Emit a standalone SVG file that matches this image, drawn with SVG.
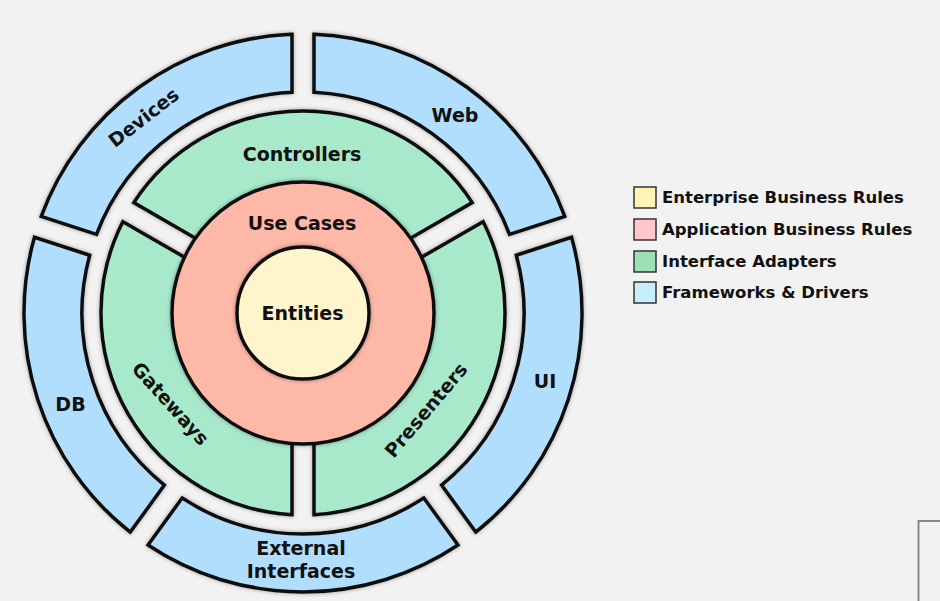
<svg xmlns="http://www.w3.org/2000/svg" width="940" height="601" viewBox="0 0 940 601">
<defs>
<filter id="sh" x="-10%" y="-10%" width="120%" height="120%">
<feDropShadow dx="0" dy="0" stdDeviation="2" flood-color="#000" flood-opacity="0.35"/>
</filter>
<style>
.seg{stroke:#111;stroke-width:3.5;stroke-linejoin:miter;filter:url(#sh)}
.blue{fill:#b0defc}
.green{fill:#a8e9cc}
.lbl{font-family:"DejaVu Sans","Liberation Sans",sans-serif;font-weight:bold;font-size:19px;fill:#111;text-anchor:middle}
.leg{font-family:"DejaVu Sans","Liberation Sans",sans-serif;font-weight:bold;font-size:16.5px;fill:#111}
.box{stroke:#333;stroke-width:1.5}
</style>
</defs>
<rect width="940" height="601" fill="#f2f2f2"/>
<g id="devices">
<path class="seg blue" d="M 292,34.217 A279,279 0 0 0 41.259,216.389 L 96.476,234.330 A221,221 0 0 1 292,92.274 Z"/>
<text class="lbl" transform="translate(144,118) rotate(-38)" x="0" y="6">Devices</text>
</g>
<g id="web">
<path class="seg blue" d="M 564.741,216.389 A279,279 0 0 0 314,34.217 L 314,92.274 A221,221 0 0 1 509.524,234.330 Z"/>
<text class="lbl" x="455" y="121.5">Web</text>
</g>
<g id="ui">
<path class="seg blue" d="M 475.764,532.073 A279,279 0 0 0 571.539,237.313 L 516.322,255.254 A221,221 0 0 1 441.638,485.104 Z"/>
<text class="lbl" x="545" y="388">UI</text>
</g>
<g id="external-interfaces">
<path class="seg blue" d="M 148.034,545.005 A279,279 0 0 0 457.966,545.005 L 423.840,498.036 A221,221 0 0 1 182.160,498.036 Z"/>
<text class="lbl" x="301" y="555">External</text>
<text class="lbl" x="301" y="578">Interfaces</text>
</g>
<g id="db">
<path class="seg blue" d="M 34.461,237.313 A279,279 0 0 0 130.236,532.073 L 164.362,485.104 A221,221 0 0 1 89.678,255.254 Z"/>
<text class="lbl" x="70.5" y="411">DB</text>
</g>
<g id="controllers">
<path class="seg green" d="M 472.177,202.624 A202,202 0 0 0 133.823,202.624 L 200.667,241.216 A125,125 0 0 1 405.333,241.216 Z"/>
<text class="lbl" x="302" y="161">Controllers</text>
</g>
<g id="gateways">
<path class="seg green" d="M 122.823,221.676 A202,202 0 0 0 292,514.7 L 292,437.515 A125,125 0 0 1 189.667,260.268 Z"/>
<text class="lbl" transform="translate(170,404) rotate(48)" x="0" y="6">Gateways</text>
</g>
<g id="presenters">
<path class="seg green" d="M 314,514.7 A202,202 0 0 0 483.177,221.676 L 416.333,260.268 A125,125 0 0 1 314,437.515 Z"/>
<text class="lbl" transform="translate(426.5,410.5) rotate(-50)" x="0" y="6">Presenters</text>
</g>
<g id="use-cases">
<circle class="seg" cx="303" cy="313" r="131" fill="#fdb8a8"/>
<text class="lbl" x="302" y="230">Use Cases</text>
</g>
<g id="entities">
<circle class="seg" cx="303" cy="313" r="66" fill="#fff5cc"/>
<text class="lbl" x="302.5" y="320">Entities</text>
</g>
<g id="legend">
<rect class="box" x="634" y="187" width="22" height="21" fill="#fff4b8"/>
<text class="leg" x="662" y="202.5">Enterprise Business Rules</text>
<rect class="box" x="634" y="219" width="22" height="21" fill="#ffc6cc"/>
<text class="leg" x="662" y="234.5">Application Business Rules</text>
<rect class="box" x="634" y="251" width="22" height="21" fill="#9ee0b5"/>
<text class="leg" x="662" y="266.5">Interface Adapters</text>
<rect class="box" x="634" y="282" width="22" height="21" fill="#c6eefb"/>
<text class="leg" x="662" y="297.5">Frameworks &amp; Drivers</text>
</g>
<path d="M 918.5,601 V 521 H 940" fill="none" stroke="#888" stroke-width="2"/>
</svg>
